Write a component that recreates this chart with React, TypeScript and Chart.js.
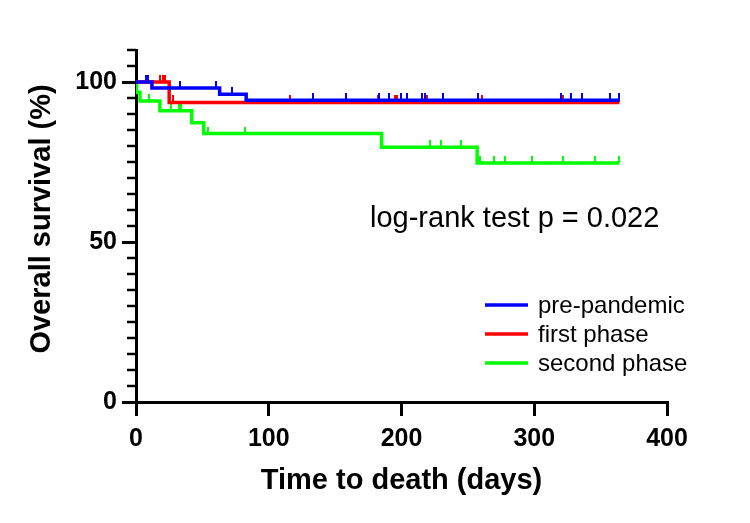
import { useEffect, useRef } from "react";
import { Chart, registerables } from "chart.js";

Chart.register(...registerables);

const FONT = "'Liberation Sans', Arial, Helvetica, sans-serif";

// Kaplan-Meier curves: day of each event step and the survival (%) after it
const SERIES_NAMES = ["pre-pandemic", "first phase", "second phase"];
const SERIES_COLORS = ["#0000ff", "#ff0000", "#00ff00"];

const PRE_EVENT_DAYS = [0, 12, 63, 83];
const PRE_SURVIVAL = [100, 98.1, 96.2, 94.3];
const PRE_CENSORED_DAYS = [
  7.5, 9, 33, 60.5, 72, 133, 158.5, 183, 190.5, 199.5, 204.5, 215.5, 217.5,
  231.5, 257.5, 320, 327.5, 336, 357, 364,
];

const FIRST_EVENT_DAYS = [0, 25];
const FIRST_SURVIVAL = [100, 93.6];
const FIRST_CENSORED_DAYS = [
  18, 20, 22, 28, 116, 182.5, 195, 196.5, 219.5, 260.5, 322, 364,
];

const SECOND_EVENT_DAYS = [0, 0.5, 3, 18, 42, 51, 185, 257];
const SECOND_SURVIVAL = [100, 96.7, 94.1, 91.0, 87.3, 83.9, 79.6, 74.7];
const SECOND_CENSORED_DAYS = [
  10, 26, 32.5, 34, 54.5, 82, 221.5, 229.5, 245, 259, 270, 278, 298, 322, 346,
  364,
];

const X_TICKS = [0, 100, 200, 300, 400];
const Y_TICKS = [0, 50, 100];
const Y_MINOR_STEP = 5;
const X_MAX = 400;
const Y_MAX = 110;

const X_TITLE = "Time to death (days)";
const Y_TITLE = "Overall survival (%)";
const TEST_NOTE = "log-rank test p = 0.022";

const CURVE_WIDTH = 3.5;

type Pt = { x: number; y: number };

function survivalAt(days: number[], surv: number[], t: number): number {
  let s = surv[0];
  for (let i = 0; i < days.length; i++) if (days[i] <= t) s = surv[i];
  return s;
}

function curvePoints(days: number[], surv: number[], censored: number[]): Pt[] {
  const pts = days.map((d, i) => ({ x: d, y: surv[i] }));
  const end = Math.max(days[days.length - 1], ...censored);
  pts.push({ x: end, y: surv[surv.length - 1] });
  return pts;
}

function censorPoints(days: number[], surv: number[], censored: number[]): Pt[] {
  return censored.map((t) => ({ x: t, y: survivalAt(days, surv, t) }));
}

// small upward tick used for censored observations
function censorMark(color: string): HTMLCanvasElement {
  const c = document.createElement("canvas");
  c.width = 2;
  c.height = 14;
  const g = c.getContext("2d")!;
  g.fillStyle = color;
  g.fillRect(0, 0, 2, 7);
  return c;
}

const decorations = {
  id: "kmDecorations",
  afterDraw(chart: any) {
    const { ctx, chartArea, scales } = chart;
    const y = scales.y;
    ctx.save();

    // minor ticks on the survival axis
    ctx.strokeStyle = "#000";
    ctx.lineWidth = 2.5;
    for (let v = 0; v <= Y_MAX; v += Y_MINOR_STEP) {
      if (Y_TICKS.includes(v)) continue;
      const py = y.getPixelForValue(v);
      ctx.beginPath();
      ctx.moveTo(chartArea.left - 9, py);
      ctx.lineTo(chartArea.left, py);
      ctx.stroke();
    }

    // survival axis title
    ctx.save();
    ctx.translate(42, 219);
    ctx.rotate(-Math.PI / 2);
    ctx.font = `bold 29px ${FONT}`;
    ctx.fillStyle = "#000";
    ctx.textAlign = "center";
    ctx.textBaseline = "middle";
    ctx.fillText(Y_TITLE, 0, 0);
    ctx.restore();

    // test result
    ctx.font = `29px ${FONT}`;
    ctx.fillStyle = "#000";
    ctx.textAlign = "left";
    ctx.textBaseline = "alphabetic";
    ctx.fillText(TEST_NOTE, 370, 227);

    // legend
    const rows = [305, 334, 363];
    ctx.font = `24px ${FONT}`;
    ctx.textBaseline = "middle";
    SERIES_NAMES.forEach((name, i) => {
      ctx.strokeStyle = SERIES_COLORS[i];
      ctx.lineWidth = CURVE_WIDTH;
      ctx.beginPath();
      ctx.moveTo(485, rows[i]);
      ctx.lineTo(528, rows[i]);
      ctx.stroke();
      ctx.fillStyle = "#000";
      ctx.fillText(name, 538, rows[i] + 1);
    });

    ctx.restore();
  },
};

export default function App() {
  const ref = useRef<HTMLCanvasElement | null>(null);

  useEffect(() => {
    if (!ref.current) return;
    const groups = [
      [PRE_EVENT_DAYS, PRE_SURVIVAL, PRE_CENSORED_DAYS],
      [FIRST_EVENT_DAYS, FIRST_SURVIVAL, FIRST_CENSORED_DAYS],
      [SECOND_EVENT_DAYS, SECOND_SURVIVAL, SECOND_CENSORED_DAYS],
    ];
    const lines = groups.map(([d, s, c], i) => ({
      label: SERIES_NAMES[i],
      data: curvePoints(d, s, c),
      borderColor: SERIES_COLORS[i],
      backgroundColor: SERIES_COLORS[i],
      borderWidth: CURVE_WIDTH,
      stepped: true,
      pointRadius: 0,
      fill: false,
      borderCapStyle: "butt",
      borderJoinStyle: "miter",
    }));
    const marks = groups.map(([d, s, c], i) => ({
      label: SERIES_NAMES[i] + " censored",
      data: censorPoints(d, s, c),
      showLine: false,
      pointStyle: censorMark(SERIES_COLORS[i]),
      pointRadius: 3,
      borderColor: SERIES_COLORS[i],
      backgroundColor: SERIES_COLORS[i],
    }));

    const tickFont = { family: FONT, size: 25, weight: "bold" as const };

    const chart = new Chart(ref.current, {
      type: "line",
      data: { datasets: [...lines, ...marks] as any },
      options: {
        animation: false,
        responsive: false,
        devicePixelRatio: 1,
        events: [],
        layout: { padding: { left: 0, right: 83, top: 50, bottom: 0 } },
        plugins: {
          legend: { display: false },
          tooltip: { enabled: false },
        },
        scales: {
          x: {
            type: "linear",
            min: 0,
            max: X_MAX,
            afterBuildTicks: (s: any) => {
              s.ticks = X_TICKS.map((v) => ({ value: v }));
            },
            afterFit: (s: any) => {
              s.height = 121;
            },
            ticks: {
              color: "#000",
              font: tickFont,
              padding: 8,
              maxRotation: 0,
              autoSkip: false,
            },
            grid: {
              display: true,
              drawOnChartArea: false,
              drawTicks: true,
              tickLength: 14,
              tickWidth: 3,
              lineWidth: 3,
              tickColor: "#000",
              color: "#000",
            },
            border: { display: true, color: "#000", width: 3 },
            title: {
              display: true,
              text: X_TITLE,
              color: "#000",
              font: { family: FONT, size: 29, weight: "bold" },
              padding: { top: 0, bottom: 25 },
            },
          },
          y: {
            type: "linear",
            min: 0,
            max: Y_MAX,
            afterBuildTicks: (s: any) => {
              s.ticks = Y_TICKS.map((v) => ({ value: v }));
            },
            afterFit: (s: any) => {
              s.width = 136;
            },
            ticks: {
              color: "#000",
              font: tickFont,
              padding: 5,
              autoSkip: false,
            },
            grid: {
              display: true,
              drawOnChartArea: false,
              drawTicks: true,
              tickLength: 14,
              tickWidth: 3,
              lineWidth: 3,
              tickColor: "#000",
              color: "#000",
            },
            border: { display: true, color: "#000", width: 3 },
          },
        },
      },
      plugins: [decorations],
    } as any);

    return () => chart.destroy();
  }, []);

  return (
    <div
      style={{
        position: "absolute",
        left: 0,
        top: 0,
        width: 750,
        height: 523,
        background: "#fff",
      }}
    >
      <canvas ref={ref} width={750} height={523} />
    </div>
  );
}
